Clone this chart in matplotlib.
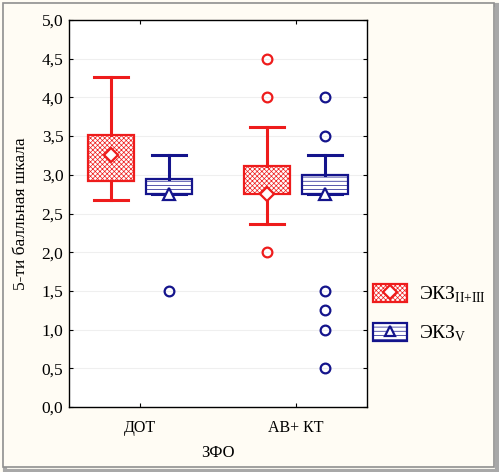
import matplotlib.pyplot as plt
from matplotlib.patches import Patch, Rectangle
from matplotlib.lines import Line2D
from matplotlib.ticker import FuncFormatter, MultipleLocator

plt.rcParams['font.family'] = ['Liberation Serif', 'DejaVu Serif']
plt.rcParams['mathtext.fontset'] = 'custom'
plt.rcParams['mathtext.rm'] = 'Liberation Serif'
plt.rcParams['hatch.linewidth'] = 0.5

groups = ['ДОТ', 'АВ+ КТ']
series = ['ЭКЗ$_{\\mathrm{II{+}III}}$', 'ЭКЗ$_{\\mathrm{V}}$']

# per series: values for [ДОТ, АВ+КТ]
whis_hi = [[4.27, 3.62], [3.25, 3.25]]
q3 = [[3.52, 3.12], [2.95, 3.00]]
q1 = [[2.92, 2.75], [2.75, 2.75]]
whis_lo = [[2.67, 2.37], [2.75, 2.75]]
center = [[3.25, 2.75], [2.75, 2.75]]
outliers = [[[], [4.5, 4.0, 2.0]],
            [[1.5], [4.0, 3.5, 1.5, 1.25, 1.0, 0.5]]]

colors = ['#ee1c1c', '#14148c']
hatches = ['xxxxxxx', '----']
markers = ['D', '^']

fig = plt.figure(figsize=(4.99, 4.72), dpi=100)
fig.patch.set_facecolor('#fffcf4')
fig.patches.append(Rectangle((5 / 499, 1 / 472), 492 / 499, 466 / 472, transform=fig.transFigure,
                             facecolor='none', edgecolor='#a8a8a8', lw=3, zorder=-2))
fig.patches.append(Rectangle((3 / 499, 5 / 472), 491 / 499, 464 / 472, transform=fig.transFigure,
                             facecolor='#fffcf4', edgecolor='#909090', lw=1.2, zorder=-1))

ax = fig.add_axes([69 / 499, 65 / 472, 298 / 499, 387 / 472])
ax.set_facecolor('white')

offs = [-0.186, 0.186]
for s in range(2):
    stats = []
    for g in range(2):
        stats.append(dict(med=center[s][g], q1=q1[s][g], q3=q3[s][g],
                          whislo=whis_lo[s][g], whishi=whis_hi[s][g],
                          mean=center[s][g], fliers=outliers[s][g]))
    c = colors[s]
    ax.bxp(stats, positions=[g + 1 + offs[s] for g in range(2)], widths=0.295,
           capwidths=0.22, patch_artist=True, showmeans=True,
           boxprops=dict(facecolor='white', edgecolor=c, lw=1.6, hatch=hatches[s]),
           whiskerprops=dict(color=c, lw=2.2),
           capprops=dict(color=c, lw=2.2),
           medianprops=dict(lw=0),
           meanprops=dict(marker=markers[s], markerfacecolor='white', markeredgecolor=c,
                          markersize=7 if s == 0 else 8, markeredgewidth=1.6),
           flierprops=dict(marker='o', markerfacecolor='none', markeredgecolor=c,
                           markersize=7, markeredgewidth=1.6),
           zorder=3)

ax.set_xlim(0.545, 2.455)
ax.set_ylim(0, 5)
ax.set_xticks([1, 2])
ax.set_xticklabels(groups)
ax.yaxis.set_major_locator(MultipleLocator(0.5))
ax.yaxis.set_major_formatter(FuncFormatter(lambda v, p: f'{v:.1f}'.replace('.', ',')))
ax.grid(axis='y', color='#efefef', lw=0.8, zorder=0)
ax.set_axisbelow(True)
ax.tick_params(axis='y', direction='in', length=3, pad=4, labelsize=12.5, right=True)
ax.tick_params(axis='x', direction='in', length=3, pad=9, labelsize=11.5, top=True)
for sp in ax.spines.values():
    sp.set_linewidth(1.0)

ax.set_ylabel('5-ти балльная шкала', fontsize=12.5, labelpad=9)
ax.set_xlabel('ЗФО', fontsize=12, labelpad=7)

handles = []
for s in range(2):
    p = Patch(facecolor='white', edgecolor=colors[s], hatch=hatches[s], lw=1.6)
    m = Line2D([], [], ls='none', marker=markers[s], markerfacecolor='white',
               markeredgecolor=colors[s], markersize=7, markeredgewidth=1.6)
    handles.append((p, m))
fig.legend(handles, series, loc='center left', bbox_to_anchor=(355 / 499, 158 / 472),
           frameon=False, fontsize=14, handlelength=1.75, handleheight=1.03,
           labelspacing=0.9, handletextpad=0.65)

fig.savefig('out.png', dpi=100, facecolor=fig.get_facecolor())
